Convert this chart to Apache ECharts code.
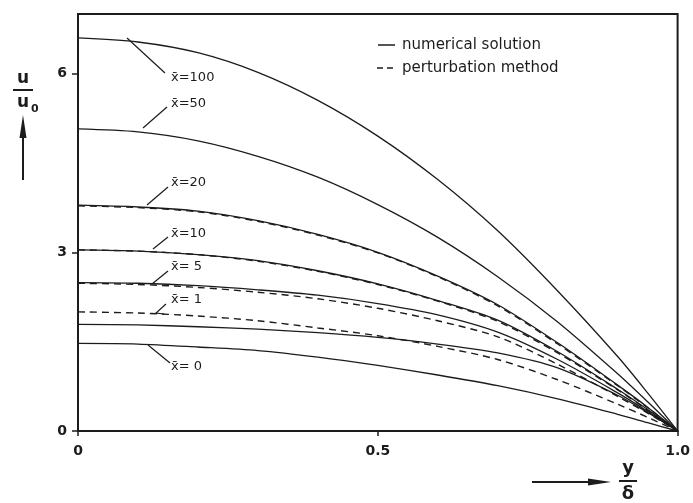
<!DOCTYPE html>
<html>
<head>
<meta charset="utf-8">
<script src="https://cdn.jsdelivr.net/npm/echarts@6/dist/echarts.min.js"></script>
<style>
html, body { margin: 0; padding: 0; background: #fff; }
#main { width: 693px; height: 503px; }
</style>
</head>
<body>
<div id="main"></div>
<script>
// y/delta positions where the curves were read
var yPos = [0, 0.1, 0.2, 0.3, 0.4, 0.5, 0.6, 0.7, 0.8, 0.9, 0.95, 1];

// numerical solution, u/u0
var num100 = [6.60, 6.53, 6.35, 6.02, 5.55, 4.95, 4.22, 3.36, 2.35, 1.25, 0.64, 0];
var num50 = [5.07, 5.02, 4.87, 4.61, 4.26, 3.80, 3.25, 2.59, 1.83, 0.96, 0.49, 0];
var num20 = [3.79, 3.76, 3.69, 3.53, 3.30, 3.00, 2.60, 2.12, 1.48, 0.77, 0.40, 0];
var num10 = [3.04, 3.02, 2.96, 2.86, 2.69, 2.47, 2.19, 1.86, 1.33, 0.70, 0.36, 0];
var num5 = [2.49, 2.48, 2.44, 2.37, 2.28, 2.14, 1.95, 1.66, 1.20, 0.64, 0.33, 0];
var num1 = [1.79, 1.78, 1.75, 1.71, 1.65, 1.57, 1.46, 1.31, 1.06, 0.60, 0.31, 0];
var num0 = [1.47, 1.46, 1.41, 1.35, 1.24, 1.10, 0.94, 0.76, 0.54, 0.28, 0.14, 0];

// perturbation method
var pert20 = [3.78, 3.75, 3.68, 3.52, 3.29, 2.99, 2.59, 2.10, 1.46, 0.76, 0.39, 0];
var pert10 = [3.04, 3.02, 2.96, 2.85, 2.68, 2.46, 2.18, 1.84, 1.31, 0.69, 0.35, 0];
var pert5 = [2.48, 2.46, 2.41, 2.33, 2.22, 2.06, 1.85, 1.58, 1.12, 0.58, 0.30, 0];
var pert1 = [2.00, 1.98, 1.93, 1.85, 1.73, 1.60, 1.42, 1.20, 0.86, 0.45, 0.23, 0];

var yTicks = [0, 3, 6];
var xTicks = [0, 0.5, 1];
var xTickText = ['0', '0.5', '1.0'];
var curveNames = ['x\u0304=100', 'x\u0304=50', 'x\u0304=20', 'x\u0304=10', 'x\u0304= 5', 'x\u0304= 1', 'x\u0304= 0'];

var INK = '#1c1c1c';
var FONT = '"DejaVu Sans", sans-serif';

function pairs(vals) {
	var out = [];
	for (var i = 0; i < yPos.length; i++) {
		out.push([yPos[i], vals[i]]);
	}
	return out;
}

function makeLine(name, vals, dashed) {
	return {
		name: name,
		type: 'line',
		data: pairs(vals),
		smooth: 0.3,
		symbol: 'none',
		silent: true,
		z: dashed ? 3 : 2,
		lineStyle: {
			color: INK,
			width: dashed ? 1.4 : 1.3,
			type: dashed ? [7, 5] : 'solid'
		}
	};
}

var series = [
	makeLine('num100', num100, false),
	makeLine('num50', num50, false),
	makeLine('num20', num20, false),
	makeLine('num10', num10, false),
	makeLine('num5', num5, false),
	makeLine('num1', num1, false),
	makeLine('num0', num0, false),
	makeLine('pert20', pert20, true),
	makeLine('pert10', pert10, true),
	makeLine('pert5', pert5, true),
	makeLine('pert1', pert1, true)
];

/**
 * leader lines + x-bar labels, legend text, axis titles
 */
function buildGraphic() {
	var g = [];
	var leaders = [
		[[127, 38], [165, 73]],
		[[143, 128], [167, 107]],
		[[147, 205], [168, 187]],
		[[153, 249], [168, 237]],
		[[152, 284], [168, 271]],
		[[166, 304], [156, 313], [164, 314]],
		[[148, 345], [170, 363]]
	];
	var labelY = [78, 104, 183, 234, 267, 300, 367];
	for (var i = 0; i < curveNames.length; i++) {
		g.push({
			type: 'polyline',
			shape: { points: leaders[i] },
			style: { stroke: INK, lineWidth: 1.2, fill: null },
			silent: true
		});
		g.push({
			type: 'text',
			x: 171,
			y: labelY[i],
			style: {
				text: curveNames[i],
				font: '13px ' + FONT,
				fill: INK,
				textAlign: 'left',
				textVerticalAlign: 'middle'
			}
		});
	}

	// legend
	g.push({ type: 'line', shape: { x1: 378, y1: 45, x2: 395, y2: 45 }, style: { stroke: INK, lineWidth: 1.5 } });
	g.push({ type: 'line', shape: { x1: 377, y1: 68, x2: 395, y2: 68 }, style: { stroke: INK, lineWidth: 1.5, lineDash: [6, 4] } });
	g.push({ type: 'text', x: 402, y: 45, style: { text: 'numerical solution', font: '15px ' + FONT, fill: INK, textVerticalAlign: 'middle' } });
	g.push({ type: 'text', x: 402, y: 68, style: { text: 'perturbation method', font: '15px ' + FONT, fill: INK, textVerticalAlign: 'middle' } });

	// y title u/u0 with arrow
	g.push({ type: 'text', x: 23, y: 79, style: { text: 'u', font: 'bold 17px ' + FONT, fill: INK, textAlign: 'center', textVerticalAlign: 'middle' } });
	g.push({ type: 'line', shape: { x1: 13, y1: 90, x2: 33, y2: 90 }, style: { stroke: INK, lineWidth: 2 } });
	g.push({ type: 'text', x: 23, y: 103, style: { text: 'u', font: 'bold 17px ' + FONT, fill: INK, textAlign: 'center', textVerticalAlign: 'middle' } });
	g.push({ type: 'text', x: 31, y: 109, style: { text: '0', font: 'bold 11px ' + FONT, fill: INK, textAlign: 'left', textVerticalAlign: 'middle' } });
	g.push({ type: 'line', shape: { x1: 23, y1: 180, x2: 23, y2: 130 }, style: { stroke: INK, lineWidth: 2 } });
	g.push({ type: 'polygon', shape: { points: [[23, 115], [19.5, 138], [26.5, 138]] }, style: { fill: INK } });

	// x title y/delta with arrow
	g.push({ type: 'line', shape: { x1: 532, y1: 482, x2: 595, y2: 482 }, style: { stroke: INK, lineWidth: 2 } });
	g.push({ type: 'polygon', shape: { points: [[611, 482], [588, 478.5], [588, 485.5]] }, style: { fill: INK } });
	g.push({ type: 'text', x: 628, y: 468, style: { text: 'y', font: 'bold 18px ' + FONT, fill: INK, textAlign: 'center', textVerticalAlign: 'middle' } });
	g.push({ type: 'line', shape: { x1: 619, y1: 481, x2: 637, y2: 481 }, style: { stroke: INK, lineWidth: 2 } });
	g.push({ type: 'text', x: 628, y: 494, style: { text: '\u03b4', font: 'bold 18px ' + FONT, fill: INK, textAlign: 'center', textVerticalAlign: 'middle' } });
	return g;
}

var chart = echarts.init(document.getElementById('main'), null, { renderer: 'canvas' });
chart.setOption({
	animation: false,
	backgroundColor: '#fff',
	grid: {
		left: 78,
		right: 9,
		top: 14,
		bottom: 72,
		show: true,
		borderColor: INK,
		borderWidth: 2,
		backgroundColor: 'transparent'
	},
	xAxis: {
		type: 'value',
		min: 0,
		max: 1,
		splitLine: { show: false },
		axisLine: { lineStyle: { color: INK, width: 2 } },
		axisTick: { show: true, length: 5, lineStyle: { color: INK, width: 1.5 }, customValues: xTicks },
		axisLabel: {
			color: INK,
			fontSize: 14,
			fontWeight: 'bold',
			fontFamily: FONT,
			margin: 13,
			customValues: xTicks,
			formatter: function(v) {
				return xTickText[xTicks.indexOf(v)];
			}
		}
	},
	yAxis: {
		type: 'value',
		min: 0,
		max: 7,
		splitLine: { show: false },
		axisLine: { lineStyle: { color: INK, width: 2 } },
		axisTick: { show: true, length: 6, lineStyle: { color: INK, width: 1.5 }, customValues: yTicks },
		axisLabel: {
			color: INK,
			fontSize: 14,
			fontWeight: 'bold',
			fontFamily: FONT,
			margin: 11,
			customValues: yTicks
		}
	},
	graphic: buildGraphic(),
	series: series
});
</script>
</body>
</html>
